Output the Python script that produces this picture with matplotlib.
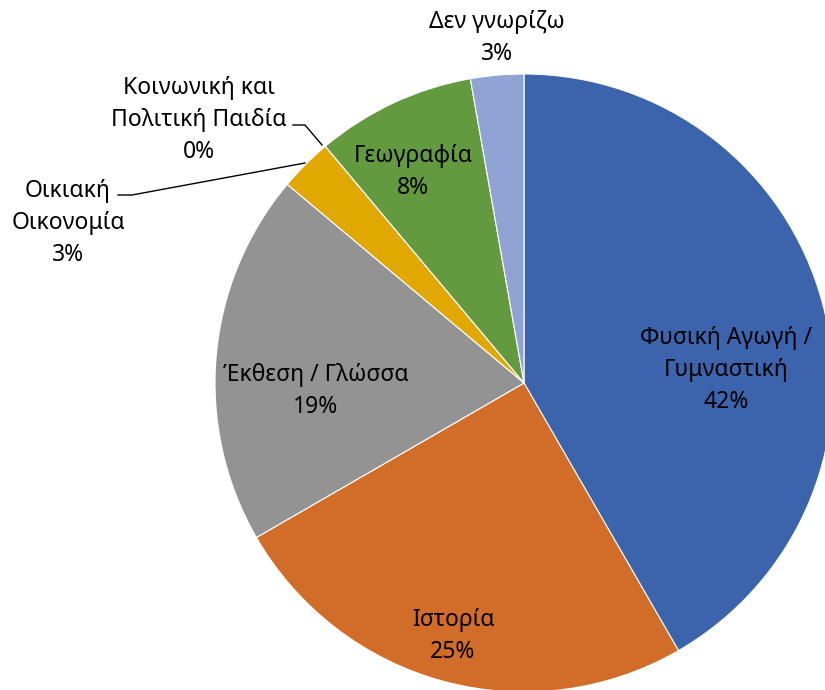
import matplotlib.pyplot as plt

plt.rcParams['font.family'] = ['Noto Sans', 'DejaVu Sans']

labels = ['Φυσική Αγωγή /\nΓυμναστική', 'Ιστορία', 'Έκθεση / Γλώσσα',
          'Οικιακή\nΟικονομία', 'Κοινωνική και\nΠολιτική Παιδία', 'Γεωγραφία', 'Δεν γνωρίζω']
counts = [15, 9, 7, 1, 0, 3, 1]
colors = ['#3C64AD', '#D26D29', '#939393', '#E0A800', '#CC9900', '#639A3F', '#8FA3D5']

# label centres in pixel coords (x, y from top)
label_pos = [(726, 370), (453, 636), (316, 391), (68, 223), (199, 120), (413, 172), (497, 38)]

W, H = 825, 690
cx, cy, R = 524, 383, 309

fig = plt.figure(figsize=(W / 100, H / 100), dpi=100)
ax = fig.add_axes([0, 0, 1, 1])

wedges, _ = ax.pie(counts, colors=colors, startangle=90, counterclock=False,
                   center=(cx, H - cy), radius=R, frame=True,
                   wedgeprops=dict(edgecolor='white', linewidth=0.8))
ax.set_xlim(0, W)
ax.set_ylim(0, H)
ax.set_aspect('equal')
ax.axis('off')

total = sum(counts)
for lab, c, (x, y) in zip(labels, counts, label_pos):
    pct = round(100 * c / total)
    ax.text(x, H - y, f'{lab}\n{pct}%', ha='center', va='center',
            fontsize=16.5, linespacing=1.42, color='black')

# leader lines
ax.plot([118, 132, 305], [H - 195, H - 195, H - 163], color='black', lw=1)
ax.plot([293, 305, 322], [H - 125, H - 125, H - 145], color='black', lw=1)

fig.savefig('out.png', dpi=100)
